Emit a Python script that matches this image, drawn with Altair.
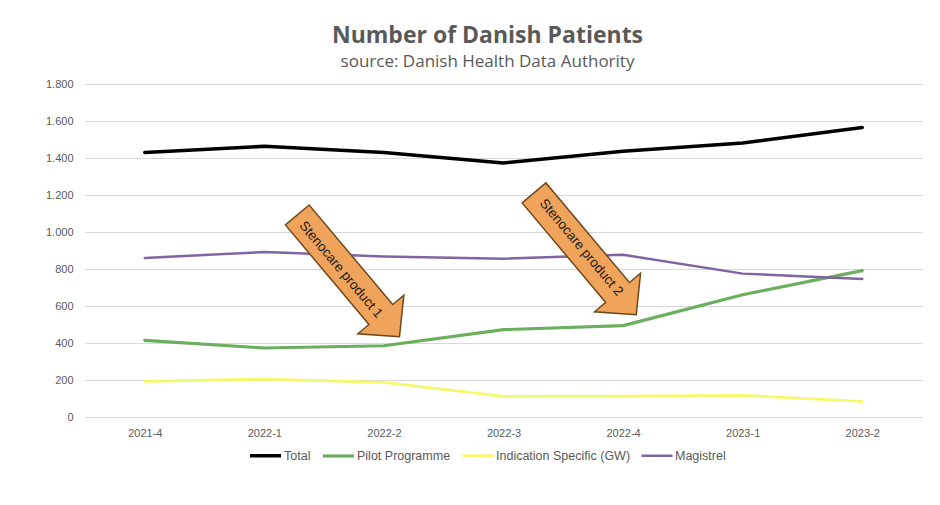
import altair as alt
import pandas as pd

quarters = ["2021-4", "2022-1", "2022-2", "2022-3", "2022-4", "2023-1", "2023-2"]
total = [1430, 1463, 1430, 1373, 1436, 1481, 1565]
pilot = [414, 373, 385, 472, 494, 661, 791]
indication = [193, 205, 187, 111, 113, 117, 84]
magistrel = [860, 892, 868, 856, 877, 775, 746]

series_names = ["Total", "Pilot Programme", "Indication Specific (GW)", "Magistrel"]
series_colors = ["#000000", "#6BAF5E", "#F8F76C", "#8064A2"]
series_widths = [3.5, 2.5, 2.5, 2.5]

arrow_labels = ["Stenocare product 1", "Stenocare product 2"]
arrow_tip_x = [2.13, 4.11]
arrow_tip_y = [434, 553]
arrow_text_x = [1.64, 3.65]
arrow_text_y = [796, 916]

rows = []
for name, vals in zip(series_names, [total, pilot, indication, magistrel]):
    for i, (q, v) in enumerate(zip(quarters, vals)):
        rows.append({"series": name, "qi": i, "quarter": q, "value": v})
df = pd.DataFrame(rows)

arrow_tips = pd.DataFrame({"label": arrow_labels, "qi": arrow_tip_x, "value": arrow_tip_y})
arrow_texts = pd.DataFrame({"label": arrow_labels, "qi": arrow_text_x, "value": arrow_text_y})

label_expr = "[" + ",".join(f"'{q}'" for q in quarters) + "][datum.value]"

x_enc = alt.X(
    "qi:Q",
    scale=alt.Scale(domain=[-0.5, len(quarters) - 0.5], nice=False, zero=False),
    axis=alt.Axis(
        values=list(range(len(quarters))), labelExpr=label_expr, title=None,
        grid=False, ticks=False, domain=False, labelPadding=10,
        labelFont="Liberation Sans", labelFontSize=11, labelColor="#595959",
    ),
)
y_enc = alt.Y(
    "value:Q",
    scale=alt.Scale(domain=[0, 1800], nice=False),
    axis=alt.Axis(
        values=list(range(0, 1801, 200)), title=None, domain=False, ticks=False,
        grid=True, gridColor="#D9D9D9", gridWidth=1, labelPadding=12,
        labelFont="Liberation Sans", labelFontSize=11, labelColor="#595959",
        labelOverlap=False,
        labelExpr="replace(format(datum.value, ',d'), ',', '.')",
    ),
)

lines = alt.Chart(df).mark_line(strokeCap="round", strokeJoin="round").encode(
    x=x_enc,
    y=y_enc,
    color=alt.Color(
        "series:N",
        scale=alt.Scale(domain=series_names, range=series_colors),
        sort=series_names,
        legend=alt.Legend(
            title=None, orient="none", legendX=163, legendY=354, direction="horizontal",
            symbolType="stroke", symbolSize=961, symbolStrokeWidth=4,
            labelFont="Liberation Sans", labelFontSize=12.5, labelColor="#595959",
            labelOffset=1, columnPadding=5,
        ),
    ),
    strokeWidth=alt.StrokeWidth(
        "series:N", scale=alt.Scale(domain=series_names, range=series_widths), legend=None
    ),
    order=alt.Order("qi:Q"),
)

ARROW = "M0,0 L-29,-30 L-29,-15.5 L-159,-15.5 L-159,15.5 L-29,15.5 L-29,30 Z"

arrow_marks = alt.Chart(arrow_tips).mark_point(
    shape=ARROW, size=4, angle=50, filled=True, fill="#F0A35A", stroke="#6E4A1E",
    strokeWidth=1.5, opacity=1, fillOpacity=1, strokeOpacity=1,
).encode(x=x_enc, y=y_enc)

arrow_text = alt.Chart(arrow_texts).mark_text(
    angle=50, font="Liberation Sans", fontSize=13.5, color="#1A1A1A",
    align="center", baseline="middle",
).encode(x=x_enc, y=y_enc, text="label:N")

chart = alt.layer(lines, arrow_marks, arrow_text).properties(
    width=837, height=333,
    background="white",
    padding={"left": 85, "top": 84, "right": 18, "bottom": 88},
    autosize=alt.AutoSizeParams(type="none"),
    title=alt.TitleParams(
        text="Number of Danish Patients",
        subtitle="source: Danish Health Data Authority",
        font="Open Sans", fontSize=23, fontWeight="bold", color="#595959",
        subtitleFont="Open Sans", subtitleFontSize=17, subtitleColor="#595959",
        anchor="middle", dx=-16, offset=8, subtitlePadding=6,
    ),
).configure_view(strokeWidth=0, stroke="transparent")

chart.save("out.html", embed_options={"renderer": "svg", "actions": False})
